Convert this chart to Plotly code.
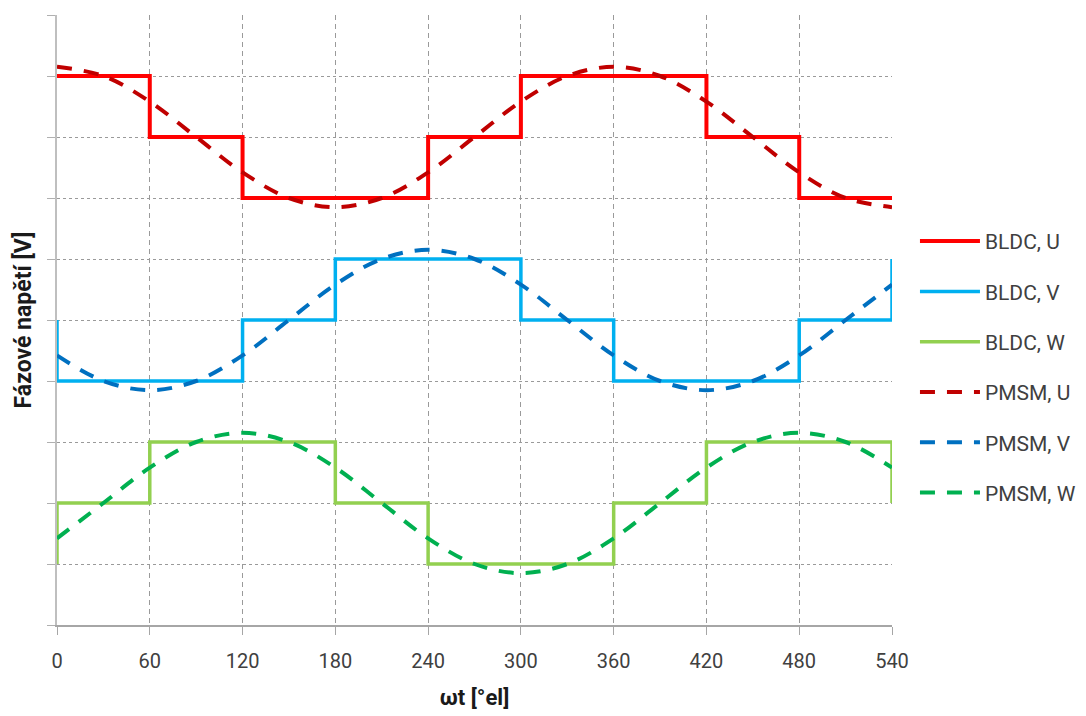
import plotly.graph_objects as go

# x positions (electrical degrees)
x_ticks = [0, 60, 120, 180, 240, 300, 360, 420, 480, 540]
tick_labels = [str(v) for v in x_ticks]

# BLDC stepped phase voltages (arbitrary units; gridlines = 1 unit)
bldc_u_x = [0, 60, 60, 120, 120, 240, 240, 300, 300, 420, 420, 480, 480, 540]
bldc_u_y = [9, 9, 8, 8, 7, 7, 8, 8, 9, 9, 8, 8, 7, 7]

bldc_v_x = [0, 0, 120, 120, 180, 180, 300, 300, 360, 360, 480, 480, 540, 540]
bldc_v_y = [5, 4, 4, 5, 5, 6, 6, 5, 5, 4, 4, 5, 5, 6]

bldc_w_x = [0, 0, 60, 60, 180, 180, 240, 240, 360, 360, 420, 420, 540, 540]
bldc_w_y = [1, 2, 2, 3, 3, 2, 2, 1, 1, 2, 2, 3, 3, 2]

# PMSM sinusoidal phase voltages, read every 30 degrees
pmsm_x = [0, 30, 60, 90, 120, 150, 180, 210, 240, 270, 300, 330, 360,
          390, 420, 450, 480, 510, 540]
pmsm_u_y = [9.15, 9.00, 8.58, 8.00, 7.42, 7.00, 6.85, 7.00, 7.42, 8.00, 8.58,
            9.00, 9.15, 9.00, 8.58, 8.00, 7.42, 7.00, 6.85]
pmsm_v_y = [4.42, 4.00, 3.85, 4.00, 4.42, 5.00, 5.58, 6.00, 6.15, 6.00, 5.58,
            5.00, 4.42, 4.00, 3.85, 4.00, 4.42, 5.00, 5.58]
pmsm_w_y = [1.42, 2.00, 2.58, 3.00, 3.15, 3.00, 2.58, 2.00, 1.42, 1.00, 0.85,
            1.00, 1.42, 2.00, 2.58, 3.00, 3.15, 3.00, 2.58]

series_names = ["BLDC, U", "BLDC, V", "BLDC, W", "PMSM, U", "PMSM, V", "PMSM, W"]

FONT = "Roboto, 'Liberation Sans', sans-serif"
DASH = "15px,12px"

fig = go.Figure()

fig.add_trace(go.Scatter(x=bldc_u_x, y=bldc_u_y, mode="lines", name=series_names[0],
                         legendgroup="a", line=dict(color="#FF0000", width=4)))
fig.add_trace(go.Scatter(x=bldc_v_x, y=bldc_v_y, mode="lines", name=series_names[1],
                         legendgroup="b", line=dict(color="#00B0F0", width=3.5)))
fig.add_trace(go.Scatter(x=bldc_w_x, y=bldc_w_y, mode="lines", name=series_names[2],
                         legendgroup="c", line=dict(color="#92D050", width=3.5)))
fig.add_trace(go.Scatter(x=pmsm_x, y=pmsm_u_y, mode="lines", name=series_names[3],
                         legendgroup="d", line=dict(color="#C00000", width=4, dash=DASH, shape="spline")))
fig.add_trace(go.Scatter(x=pmsm_x, y=pmsm_v_y, mode="lines", name=series_names[4],
                         legendgroup="e", line=dict(color="#0070C0", width=4, dash=DASH, shape="spline")))
fig.add_trace(go.Scatter(x=pmsm_x, y=pmsm_w_y, mode="lines", name=series_names[5],
                         legendgroup="f", line=dict(color="#00B050", width=4, dash=DASH, shape="spline")))

fig.update_layout(
    width=1078, height=708,
    margin=dict(l=49, r=194, t=7, b=91, autoexpand=False),
    paper_bgcolor="white", plot_bgcolor="white",
    font=dict(family=FONT, color="#404040"),
    legend=dict(
        x=1.0275, xanchor="left", y=0.423, yanchor="middle",
        font=dict(size=21, color="#404040", family=FONT),
        itemwidth=60, tracegroupgap=20, bgcolor="rgba(0,0,0,0)",
    ),
    xaxis=dict(
        range=[0, 540], tickvals=x_ticks, ticktext=tick_labels,
        showgrid=True, gridcolor="#9a9a9a", griddash="5px,4px", gridwidth=1,
        showline=True, linecolor="#a6a6a6", linewidth=1.5,
        ticks="outside", ticklen=8, tickcolor="#a6a6a6", ticklabelstandoff=9,
        tickfont=dict(size=20, color="#404040", family=FONT),
        zeroline=False, automargin=False,
        title=dict(text="<b>ωt [°el]</b>", font=dict(size=22, color="#1a1a1a", family=FONT), standoff=18),
    ),
    yaxis=dict(
        range=[0, 10], tickvals=list(range(0, 11)), showticklabels=False,
        showgrid=True, gridcolor="#9a9a9a", griddash="3px,3px", gridwidth=1,
        showline=True, linecolor="#bfbfbf", linewidth=1.5,
        ticks="outside", ticklen=8, tickcolor="#b0b0b0",
        zeroline=False, automargin=False,
        title=dict(text="<b>Fázové napětí [V]</b>", font=dict(size=23, color="#1a1a1a", family=FONT), standoff=9),
    ),
)

fig.write_html("out.html")
